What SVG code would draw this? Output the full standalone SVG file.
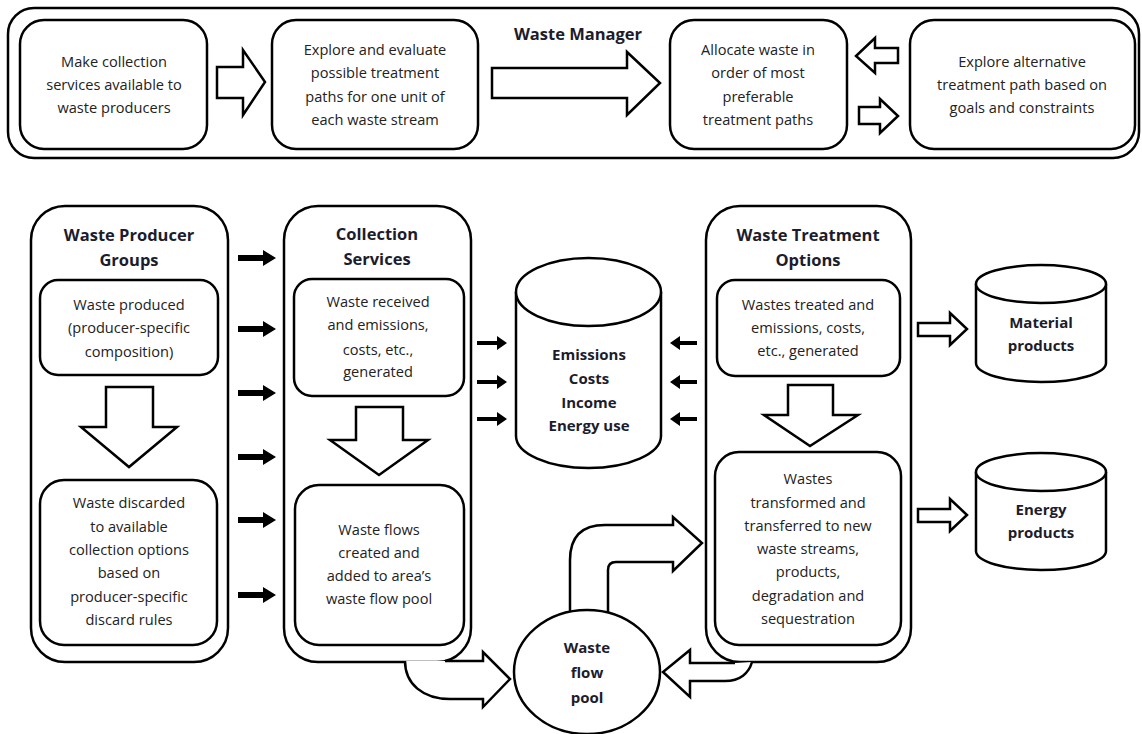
<svg xmlns="http://www.w3.org/2000/svg" width="1142" height="734" viewBox="0 0 1142 734">
<style>
.bx{fill:#fff;stroke:#000;stroke-width:2.5}
.ha{fill:#fff;stroke:#000;stroke-width:2.5;stroke-linejoin:miter}
.fa{fill:#000}
.t{font-family:"Open Sans","Liberation Sans",sans-serif;font-size:14.6px;fill:#222;text-anchor:middle}
.b{font-weight:bold;font-size:15px;fill:#1c1c2c}
.h{font-size:16.5px}
</style>
<rect width="1142" height="734" fill="#fff"/>
<g id="waste-manager">
<rect class="bx" x="8" y="8" width="1131" height="150" rx="26"/>
<text class="t b h" x="578" y="40">Waste Manager</text>
</g>
<g id="make-collection">
<rect class="bx" x="20" y="20" width="187" height="129" rx="24"/>
<text class="t" x="114" y="67">Make collection</text>
<text class="t" x="114" y="90">services available to</text>
<text class="t" x="114" y="113">waste producers</text>
</g>
<g id="explore-evaluate">
<rect class="bx" x="272" y="20" width="206" height="129" rx="24"/>
<text class="t" x="375" y="55">Explore and evaluate</text>
<text class="t" x="375" y="78">possible treatment</text>
<text class="t" x="375" y="102">paths for one unit of</text>
<text class="t" x="375" y="125">each waste stream</text>
</g>
<g id="allocate">
<rect class="bx" x="670" y="20" width="177" height="129" rx="24"/>
<text class="t" x="758" y="55">Allocate waste in</text>
<text class="t" x="758" y="78">order of most</text>
<text class="t" x="758" y="102">preferable</text>
<text class="t" x="758" y="125">treatment paths</text>
</g>
<g id="explore-alternative">
<rect class="bx" x="910" y="20" width="225" height="129" rx="24"/>
<text class="t" x="1022" y="67">Explore alternative</text>
<text class="t" x="1022" y="90">treatment path based on</text>
<text class="t" x="1022" y="113">goals and constraints</text>
</g>
<g id="producer-groups">
<rect class="bx" x="31" y="206" width="197" height="456" rx="34"/>
<text class="t b h" x="129" y="241">Waste Producer</text>
<text class="t b h" x="129" y="266">Groups</text>
<rect class="bx" x="40" y="280" width="178" height="95" rx="18"/>
<text class="t" x="129" y="310">Waste produced</text>
<text class="t" x="129" y="333">(producer-specific</text>
<text class="t" x="129" y="357">composition)</text>
<rect class="bx" x="40" y="480" width="177" height="165" rx="24"/>
<text class="t" x="129" y="508">Waste discarded</text>
<text class="t" x="129" y="532">to available</text>
<text class="t" x="129" y="555">collection options</text>
<text class="t" x="129" y="578">based on</text>
<text class="t" x="129" y="602">producer-specific</text>
<text class="t" x="129" y="625">discard rules</text>
</g>
<g id="collection-services">
<rect class="bx" x="284" y="206" width="187" height="456" rx="34"/>
<text class="t b h" x="377" y="240">Collection</text>
<text class="t b h" x="377" y="265">Services</text>
<rect class="bx" x="294" y="279" width="170" height="117" rx="18"/>
<text class="t" x="378" y="307">Waste received</text>
<text class="t" x="378" y="330">and emissions,</text>
<text class="t" x="378" y="355">costs, etc.,</text>
<text class="t" x="378" y="377">generated</text>
<rect class="bx" x="295" y="485" width="169" height="160" rx="24"/>
<text class="t" x="379" y="535">Waste flows</text>
<text class="t" x="379" y="558">created and</text>
<text class="t" x="379" y="581">added to area’s</text>
<text class="t" x="379" y="604">waste flow pool</text>
</g>
<g id="treatment-options">
<rect class="bx" x="706" y="206" width="205" height="456" rx="34"/>
<text class="t b h" x="808" y="241">Waste Treatment</text>
<text class="t b h" x="808" y="266">Options</text>
<rect class="bx" x="717" y="280" width="183" height="96" rx="18"/>
<text class="t" x="808" y="310">Wastes treated and</text>
<text class="t" x="808" y="333">emissions, costs,</text>
<text class="t" x="808" y="356">etc., generated</text>
<rect class="bx" x="715" y="452" width="186" height="193" rx="24"/>
<text class="t" x="808" y="484">Wastes</text>
<text class="t" x="808" y="508">transformed and</text>
<text class="t" x="808" y="531">transferred to new</text>
<text class="t" x="808" y="554">waste streams,</text>
<text class="t" x="808" y="577">products,</text>
<text class="t" x="808" y="601">degradation and</text>
<text class="t" x="808" y="624">sequestration</text>
</g>
<g id="emissions">
<path class="bx" d="M516,292 L516,436 A72.5,32 0 0 0 661,436 L661,292"/>
<ellipse class="bx" cx="588.5" cy="292" rx="72.5" ry="34"/>
<text class="t b" x="589" y="360">Emissions</text>
<text class="t b" x="589" y="384">Costs</text>
<text class="t b" x="589" y="408">Income</text>
<text class="t b" x="589" y="431">Energy use</text>
</g>
<g id="material-products">
<path class="bx" d="M976,284 L976,363 A65,19 0 0 0 1106,363 L1106,284"/>
<ellipse class="bx" cx="1041" cy="284" rx="65" ry="19"/>
<text class="t b" x="1041" y="328">Material</text>
<text class="t b" x="1041" y="351">products</text>
</g>
<g id="energy-products">
<path class="bx" d="M976,472 L976,551 A65,19 0 0 0 1106,551 L1106,472"/>
<ellipse class="bx" cx="1041" cy="472" rx="65" ry="19"/>
<text class="t b" x="1041" y="515">Energy</text>
<text class="t b" x="1041" y="538">products</text>
</g>
<g id="connectors">
<path class="ha" d="M217,67 L243,67 L243,50 L265,82 L243,115 L243,98 L217,98 Z"/>
<path class="ha" d="M492,68 L627,68 L627,52 L660,83 L627,115 L627,98 L492,98 Z"/>
<path class="ha" d="M898,48 L875,48 L875,38 L856,56 L875,73 L875,63 L898,63 Z"/>
<path class="ha" d="M859,107 L880,107 L880,99 L898,116 L880,133 L880,124 L859,124 Z"/>
<path class="ha" d="M106,387 L153,387 L153,427 L177,427 L129,467 L81,427 L106,427 Z"/>
<path class="ha" d="M356,407 L403,407 L403,440 L428,440 L379,475 L330,440 L356,440 Z"/>
<path class="ha" d="M788,385 L833,385 L833,415 L858,415 L810,446 L764,415 L788,415 Z"/>
<path class="ha" d="M918,323 L950,323 L950,313 L967,329 L950,345 L950,336 L918,336 Z"/>
<path class="ha" d="M918,509 L950,509 L950,499 L967,515 L950,531 L950,522 L918,522 Z"/>
<g class="fa">
<path d="M238,255 L263,255 L263,250 L276,258 L263,266 L263,261 L238,261 Z"/>
<path d="M238,326 L263,326 L263,321 L276,329 L263,337 L263,332 L238,332 Z"/>
<path d="M238,390 L263,390 L263,385 L276,393 L263,401 L263,396 L238,396 Z"/>
<path d="M238,454 L263,454 L263,449 L276,457 L263,465 L263,460 L238,460 Z"/>
<path d="M238,517 L263,517 L263,512 L276,520 L263,528 L263,523 L238,523 Z"/>
<path d="M238,592 L263,592 L263,587 L276,595 L263,603 L263,598 L238,598 Z"/>
<path d="M477,341 L497,341 L497,336 L507,343 L497,350 L497,345 L477,345 Z"/>
<path d="M477,380 L497,380 L497,375 L507,382 L497,389 L497,384 L477,384 Z"/>
<path d="M477,417 L497,417 L497,412 L507,419 L497,426 L497,421 L477,421 Z"/>
<path d="M697,341 L680,341 L680,336 L670,343 L680,350 L680,345 L697,345 Z"/>
<path d="M697,380 L680,380 L680,375 L670,382 L680,389 L680,384 L697,384 Z"/>
<path d="M697,417 L680,417 L680,412 L670,419 L680,426 L680,421 L697,421 Z"/>
</g>
<path class="ha" d="M405,661 C405,684 423,699 450,699 L483,699 L483,707 L510,679 L483,652 L483,661 L445,661"/>
<path class="ha" d="M752,662 C749,673 740,681 725,681 L690,681 L690,697 L663,672 L690,650 L690,663 L735,663"/>
<path class="ha" d="M570,625 L570,560 Q570,525 605,525 L673,525 L673,517 L702,543 L673,571 L673,562 L616,562 Q608,562 608,570 L608,625"/>
</g>
<g id="waste-flow-pool">
<ellipse class="bx" cx="587" cy="672" rx="73" ry="62"/>
<text class="t b" x="587" y="653">Waste</text>
<text class="t b" x="587" y="678">flow</text>
<text class="t b" x="587" y="703">pool</text>
</g>
</svg>
